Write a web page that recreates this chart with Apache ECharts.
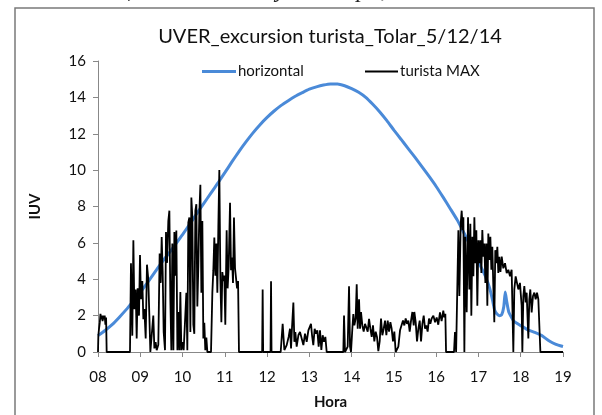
<!DOCTYPE html>
<html>
<head>
<meta charset="utf-8">
<script src="https://cdn.jsdelivr.net/npm/echarts@6/dist/echarts.min.js"></script>
<style>
html,body{margin:0;padding:0;background:#fff;}
#chart{width:602px;height:415px;}
</style>
</head>
<body>
<div id="chart"></div>
<script>
// ---- data ----
const chartTitle = 'UVER_excursion turista_Tolar_5/12/14';
const seriesNames = ['horizontal', 'turista MAX'];
const xTicks = ['08','09','10','11','12','13','14','15','16','17','18','19'];

// minutes after 08:00 and IUV of the "horizontal" sensor
const blueMin = [0,10,20,30,40,50,60,70,80,90,100,110,120,130,140,150,160,170,180,190,200,210,220,230,240,250,260,270,280,290,300,310,320,330,340,350,360,370,380,390,400,410,420,430,440,450,460,470,480,490,500,510,520,530,540,550,556,560,563,566,570,573,576,578,580,583,590,600,610,620,630,640,650,660];
const blueIUV = [0.90,1.18,1.50,1.90,2.33,2.80,3.28,3.80,4.35,4.90,5.40,5.92,6.45,7.02,7.60,8.16,8.72,9.28,9.86,10.45,11.02,11.55,12.05,12.50,12.90,13.25,13.56,13.82,14.06,14.26,14.45,14.58,14.68,14.74,14.74,14.64,14.48,14.28,14.00,13.62,13.20,12.72,12.20,11.70,11.20,10.70,10.18,9.65,9.10,8.50,7.88,7.25,6.50,5.72,4.95,4.15,3.50,2.85,2.30,2.10,2.00,2.05,2.50,3.30,2.80,2.20,1.70,1.45,1.22,1.08,0.90,0.62,0.42,0.30];

// "turista MAX": [minutes after 08:00, IUV], in segments
const turistaA = [[0,0],[0.5,0.9],[1.5,1.3],[2.5,1.6],[3.5,2.1],[4.5,1.8],[5.5,2.0],[6.5,1.7],[7.5,2.0],[8.5,1.8],[9.5,2.0],[10.5,1.5],[11.5,1.9],[12.3,0],[45.4,0]];
const turistaB = [[46.8,4.88],[48.7,0.9],[50.2,6.14],[51.6,2.36],[53.5,3.44],[54.9,0.74],[56.3,3.5],[58.2,2.0],[59.6,5.33],[61.0,2.9],[62.9,3.9],[64.4,1.8],[65.8,2.36],[67.7,0.74],[69.5,4.8],[71.4,4.0],[72.9,2.0],[74.3,0],[76.2,0.1],[78.5,2.0],[80.0,0.2],[81.8,0.55],[83.3,0.1],[85.6,0.4],[87.5,5.42],[89.0,3.8],[90.4,6.32],[91.8,4.4],[93.2,1.1],[95.1,0.1],[96.5,6.6],[98.0,4.9],[99.8,7.2],[101.3,7.77],[102.7,2.9],[104.1,0.1],[105.5,5.96],[107.0,0.1],[108.4,6.6],[109.8,4.2],[111.2,6.68],[112.7,0.1],[114.1,2.2],[115.5,0.1],[116.9,3.3],[118.3,0.1],[119.7,0.55],[121.6,0.1],[123.5,0.2],[125.4,3.26],[126.8,0.1],[128.2,7.13],[129.7,7.4],[131.1,1.1],[132.5,8.49],[133.9,7.4],[135.3,1.5],[136.7,1.0],[138.2,7.77],[139.6,8.13],[141.0,2.5],[142.4,4.7],[143.8,7.6],[145.3,9.2],[146.7,3.26],[148.1,7.2],[149.5,0.74],[150.9,1.6],[152.3,0.1],[153.8,0.8],[155.2,0],[160.4,0]];
const turistaC = [[162.3,3.26],[163.7,4.5],[165.1,6.3],[166.6,4.2],[168.0,5.96],[169.4,3.26],[170.8,6.86],[172.2,10.0],[173.7,4.0],[175.1,1.64],[176.5,4.4],[177.9,3.9],[179.3,4.2],[180.7,1.5],[182.6,6.7],[184.0,3.5],[185.5,4.7],[187.4,8.2],[188.8,4.5],[190.2,5.2],[191.6,3.8],[193.0,7.4],[194.5,4.6],[196.0,4.7],[197.4,3.5],[198.8,3.9],[200.1,0],[233.0,0],[233.7,3.44],[234.4,0],[244.9,0],[245.6,3.89],[246.3,0],[259.3,0]];
const turistaD = [[262.1,1.55],[264.5,0.11],[267.8,0.38],[270.6,0.83],[272.5,1.28],[274.0,0.2],[275.4,1.37],[277.3,2.72],[278.7,0.56],[280.1,1.1],[282.0,0.29],[284.4,0.92],[286.7,1.1],[289.1,1.1],[291.5,0.38],[293.8,1.01],[296.2,0.56],[298.6,1.19],[300.9,1.1],[302.3,1.55],[303.8,0.92],[305.6,0.38],[307.5,1.28],[309.4,1.01],[311.3,1.19],[313.2,0.29],[315.1,1.19],[317.0,0.11],[318.9,0.92],[320.8,0.56],[322.7,0.83],[324.6,0],[348.2,0]];
const turistaE = [[349.2,2.0],[350.6,0],[354.4,0.3],[356.3,3.62],[357.7,0.3],[359.1,0],[361.0,1.28],[362.4,2.09],[363.9,1.46],[365.7,1.84],[367.2,3.73],[368.6,1.28],[370.5,2.9],[371.9,1.28],[373.3,2.2],[375.2,1.46],[377.1,1.12],[379.0,1.55],[380.9,1.64],[382.8,1.12],[384.7,1.82],[386.6,1.28],[388.5,0.83],[390.3,1.46],[392.2,0.58],[394.1,1.12],[396.0,0.83],[397.9,0.05],[399.8,0.58],[401.7,1.84],[403.6,0.92],[405.5,1.28],[407.4,1.73],[409.3,0.92],[411.2,1.73],[413.1,1.12],[415.0,1.64],[416.8,1.28],[418.7,0.58],[420.6,1.12],[422.5,0],[424.4,0],[426.3,0.3],[428.7,1.19],[431.0,1.28],[432.9,1.73],[434.8,1.46],[436.7,1.84],[438.6,1.55],[440.5,1.73],[442.4,1.12],[444.3,1.73],[446.2,2.2],[448.1,1.46],[449.0,2.2],[450.9,1.64],[452.8,0.58],[454.7,1.28],[456.6,1.73],[458.5,0.58],[460.4,1.55],[462.3,2.0],[464.2,1.28],[466.0,1.46],[467.9,1.12],[469.8,1.84],[471.7,1.55],[473.6,1.84],[476.0,2.0],[478.4,1.64],[480.7,1.9],[483.0,1.5],[485.4,2.18],[487.7,1.7],[490.1,2.27],[491.5,1.9],[493.0,2.1],[494.0,0],[505.3,0],[506.7,1.1],[508.3,0]];
const turistaF = [[511.5,6.7],[512.9,3.08],[514.8,7.05],[516.2,7.77],[517.6,6.7],[518.6,7.41],[520.0,0],[521.4,6.33],[523.3,2.18],[525.2,7.41],[527.1,3.44],[528.5,7.05],[529.9,2.0],[531.4,6.33],[532.8,4.16],[534.2,7.41],[535.6,4.88],[537.0,6.7],[538.4,2.54],[539.9,6.14],[541.3,4.88],[542.7,6.14],[544.1,4.34],[545.5,6.7],[546.9,5.24],[548.4,5.96],[549.8,3.8],[551.2,5.96],[552.6,2.54],[554.0,6.52],[555.4,5.06],[556.9,6.33],[558.3,4.52],[559.7,5.78],[561.1,3.62],[562.5,1.64],[563.9,5.6],[565.4,4.88],[566.8,5.78],[568.2,4.34],[569.6,5.24],[571.2,4.4],[573.0,5.24],[575.3,4.6],[577.7,4.88],[580.1,4.34],[582.4,4.52],[584.8,4.16],[587.1,4.52],[589.5,0],[590.9,3.44],[592.8,4.16],[594.7,3.8],[596.6,3.44],[598.9,3.8],[601.3,2.54],[602.3,0],[603.7,3.08],[605.1,3.62],[607.0,2.72],[608.4,3.26],[610.8,0.74],[612.2,2.9],[613.6,3.44],[615.5,2.18],[617.4,3.08],[619.3,3.26],[621.2,2.9],[623.1,3.26],[625.0,2.9],[626.9,2.99],[627.9,0],[660,0]];

// ---- build ----
const toHour = m => 8 + m / 60;
const blueData = blueMin.map((m, i) => [toHour(m), blueIUV[i]]);
const turistaData = [].concat(turistaA, turistaB, turistaC, turistaD, turistaE, turistaF)
  .map(p => [toHour(p[0]), p[1]]);

const FONT = 'Lato';
const chart = echarts.init(document.getElementById('chart'), null, {renderer: 'canvas'});
chart.setOption({
  backgroundColor: '#fff',
  animation: false,
  title: {
    text: chartTitle,
    left: 325, top: 22, textAlign: 'center',
    textStyle: {fontFamily: FONT, fontSize: 20, fontWeight: 'normal', color: '#111'}
  },
  legend: [
    {data: [{name: seriesNames[0], icon: 'rect'}], left: 197, top: 59, itemWidth: 34, itemHeight: 3, itemGap: 2,
     textStyle: {fontFamily: FONT, fontSize: 15, color: '#111', padding: [0,0,0,-3]}},
    {data: [{name: seriesNames[1], icon: 'rect'}], left: 360, top: 59, itemWidth: 33, itemHeight: 2, itemGap: 2,
     textStyle: {fontFamily: FONT, fontSize: 15, color: '#111', padding: [0,0,0,-3]}}
  ],
  grid: {left: 98, right: 39, top: 61, bottom: 58, containLabel: false},
  xAxis: {
    type: 'value', min: 8, max: 19, interval: 1,
    name: 'Hora', nameLocation: 'middle', nameGap: 43,
    nameTextStyle: {fontFamily: FONT, fontSize: 15, fontWeight: 'bold', color: '#111'},
    axisLine: {lineStyle: {color: '#888', width: 1}},
    axisTick: {show: true, inside: false, length: 5, lineStyle: {color: '#888'}},
    axisLabel: {fontFamily: FONT, fontSize: 15, color: '#111', margin: 18,
      formatter: v => xTicks[Math.round(v - 8)]},
    splitLine: {show: false}
  },
  yAxis: {
    type: 'value', min: 0, max: 16, interval: 2,
    name: 'IUV', nameLocation: 'middle', nameRotate: 90, nameGap: 55,
    nameTextStyle: {fontFamily: FONT, fontSize: 15, fontWeight: 'bold', color: '#111'},
    axisLine: {show: true, lineStyle: {color: '#888', width: 1}},
    axisTick: {show: true, inside: false, length: 5, lineStyle: {color: '#888'}},
    axisLabel: {fontFamily: FONT, fontSize: 15, color: '#111', margin: 12},
    splitLine: {show: false}
  },
  graphic: [
    {type: 'rect', shape: {x: 15, y: 8, width: 579, height: 420}, style: {fill: 'none', stroke: '#7a7a7a', lineWidth: 1.5}, silent: true},
    {type: 'text', left: 2, top: -21, style: {text: 'ción de tabla, Tolar Grande y Socompa; ...', font: 'italic 24px "Liberation Serif"', fill: '#222'}, silent: true}
  ],
  series: [
    {name: seriesNames[0], type: 'line', data: blueData, showSymbol: false, smooth: 0.15,
     lineStyle: {color: '#4A8AD8', width: 3}, itemStyle: {color: '#4A8AD8'}, z: 2},
    {name: seriesNames[1], type: 'line', data: turistaData, showSymbol: false,
     lineStyle: {color: '#000', width: 1.8}, itemStyle: {color: '#000'}, z: 3}
  ]
});
</script>
</body>
</html>
